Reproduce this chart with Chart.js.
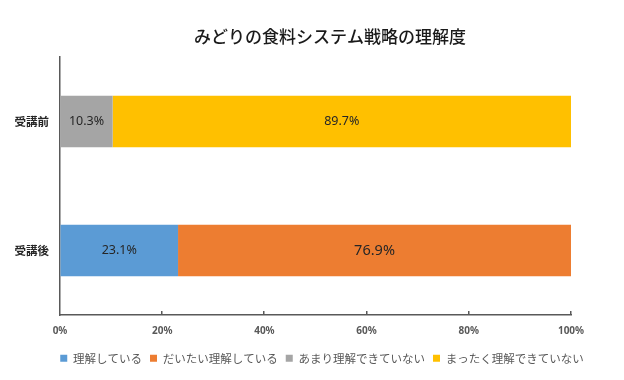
<!DOCTYPE html>
<html>
<head>
<meta charset="utf-8">
<script src="https://cdn.jsdelivr.net/npm/chart.js@4/dist/chart.umd.min.js"></script>
<style>
html,body{margin:0;padding:0;background:#fff;}
#wrap{width:624px;height:380px;position:relative;}
</style>
</head>
<body>
<div id="wrap"><canvas id="c" width="624" height="380"></canvas></div>
<script>
const titleText = 'みどりの食料システム戦略の理解度';
const categories = ['受講前', '受講後'];
const seriesNames = ['理解している', 'だいたい理解している', 'あまり理解できていない', 'まったく理解できていない'];
const understand = [0, 23.1];
const mostlyUnderstand = [0, 76.9];
const littleUnderstand = [10.3, 0];
const notUnderstand = [89.7, 0];
const xTickValues = [0, 20, 40, 60, 80, 100];

const JP = '"Noto Sans CJK JP", "Noto Sans", sans-serif';
const NUM = '"Noto Sans", "Open Sans", sans-serif';

const titlePlugin = {
  id: 'customTitle',
  afterDraw(chart) {
    const ctx = chart.ctx;
    ctx.save();
    ctx.font = '500 17px ' + JP;
    ctx.fillStyle = '#1a1a1a';
    ctx.textAlign = 'center';
    ctx.textBaseline = 'middle';
    ctx.fillText(titleText, 330, 37);
    ctx.restore();
  }
};

const legendShift = {
  id: 'legendShift',
  afterLayout(chart) {
    const lg = chart.legend;
    if (lg) { lg.left += 10; lg.right += 10; }
  }
};

const valueLabels = {
  id: 'valueLabels',
  afterDatasetsDraw(chart) {
    const ctx = chart.ctx;
    ctx.save();
    ctx.textAlign = 'center';
    ctx.textBaseline = 'middle';
    chart.data.datasets.forEach((ds, i) => {
      const meta = chart.getDatasetMeta(i);
      meta.data.forEach((el, j) => {
        const v = ds.data[j];
        if (!v) return;
        ctx.font = (ds.labelSize || 12.5) + 'px ' + NUM;
        ctx.fillStyle = '#262626';
        ctx.fillText(v.toFixed(1) + '%', (el.x + el.base) / 2, el.y);
      });
    });
    ctx.restore();
  }
};

const innerTicks = {
  id: 'innerTicks',
  afterDraw(chart) {
    const sx = chart.scales.x;
    const ctx = chart.ctx;
    const bottom = chart.chartArea.bottom;
    ctx.save();
    ctx.strokeStyle = '#595959';
    ctx.lineWidth = 1.5;
    xTickValues.forEach(v => {
      if (v === 0) return;
      const px = Math.round(sx.getPixelForValue(v)) - 0.25;
      ctx.beginPath();
      ctx.moveTo(px, bottom);
      ctx.lineTo(px, bottom - 4);
      ctx.stroke();
    });
    ctx.restore();
  }
};

new Chart(document.getElementById('c'), {
  type: 'bar',
  data: {
    labels: categories,
    datasets: [
      { label: seriesNames[0], data: understand, backgroundColor: '#5B9BD5', labelSize: 12.5 },
      { label: seriesNames[1], data: mostlyUnderstand, backgroundColor: '#ED7D31', labelSize: 14.5 },
      { label: seriesNames[2], data: littleUnderstand, backgroundColor: '#A5A5A5', labelSize: 12.5 },
      { label: seriesNames[3], data: notUnderstand, backgroundColor: '#FFC000', labelSize: 12.5 }
    ]
  },
  options: {
    indexAxis: 'y',
    responsive: false,
    animation: false,
    devicePixelRatio: 1,
    datasets: { bar: { barPercentage: 0.4, categoryPercentage: 1.0, borderWidth: 0 } },
    layout: { padding: { left: 0, right: 0, top: 57, bottom: 6 } },
    scales: {
      x: {
        stacked: true,
        min: 0,
        max: 100,
        afterBuildTicks(scale) { scale.ticks = xTickValues.map(v => ({ value: v })); },
        afterFit(scale) { scale.height = 29.5; },
        ticks: {
          padding: 10,
          color: '#595959',
          font: { family: NUM, size: 10, weight: 'bold' },
          callback: v => v + '%',
          maxRotation: 0
        },
        grid: { display: true, drawOnChartArea: false, drawTicks: false },
        border: { display: true, color: '#595959', width: 1.5 }
      },
      y: {
        stacked: true,
        afterFit(scale) { scale.width = 60; },
        ticks: {
          padding: 11,
          color: '#262626',
          font: { family: JP, size: 11.5, weight: 'bold' }
        },
        grid: { display: true, drawOnChartArea: false, drawTicks: false },
        border: { display: true, color: '#595959', width: 1.5 }
      },
      yRight: {
        type: 'linear',
        position: 'right',
        display: true,
        ticks: { display: false },
        grid: { display: false },
        border: { display: false },
        afterFit(scale) { scale.width = 53; }
      }
    },
    plugins: {
      title: { display: false },
      tooltip: { enabled: false },
      legend: {
        position: 'bottom',
        labels: {
          boxWidth: 7,
          boxHeight: 7,
          padding: 8,
          color: '#595959',
          font: { family: JP, size: 11.5 }
        }
      }
    }
  },
  plugins: [titlePlugin, legendShift, valueLabels, innerTicks]
});
</script>
</body>
</html>
